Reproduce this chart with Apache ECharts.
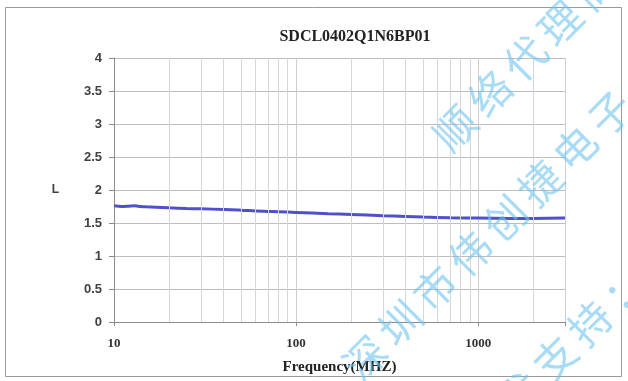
<!DOCTYPE html>
<html>
<head>
<meta charset="utf-8">
<script src="https://cdn.jsdelivr.net/npm/echarts@6/dist/echarts.min.js"></script>
<style>
  html, body { margin: 0; padding: 0; background: #fff; }
  #chart { width: 628px; height: 381px; }
</style>
</head>
<body>
<div id="chart"></div>
<script>
// inductance curve
const freqs = [10, 11, 12, 13, 14, 15, 17, 20, 25, 30, 40, 50, 60, 70, 80, 100, 150, 200, 300, 400, 500, 700, 1000, 1500, 2000, 3000];
const inductance = [1.76, 1.75, 1.755, 1.76, 1.75, 1.745, 1.74, 1.73, 1.72, 1.715, 1.705, 1.695, 1.68, 1.675, 1.67, 1.66, 1.64, 1.63, 1.61, 1.6, 1.59, 1.58, 1.575, 1.57, 1.57, 1.575];
// minor vertical grid lines of the log axis
const minorFreqs = [20, 30, 40, 50, 60, 70, 80, 90, 200, 300, 400, 500, 600, 700, 800, 900, 2000];
const xLabels = [10, 100, 1000];

const wmLines = [
    {text: '顺络代理商', x: 455, y: 128},
    {text: '深圳市伟创捷电子', x: 365, y: 358},
    {text: '技术支持：', x: 485, y: 428}
];

const wmGraphics = [];
wmLines.forEach(line => {
    [...line.text].forEach((ch, i) => {
        wmGraphics.push({
            type: 'text',
            x: line.x + i * 35,
            y: line.y - i * 35,
            rotation: Math.PI / 4,
            z: 100,
            silent: true,
            style: {
                text: ch,
                fill: 'rgba(110,195,240,0.6)',
                font: '42px "Noto Sans CJK SC"',
                align: 'center',
                verticalAlign: 'middle'
            }
        });
    });
});

const chart = echarts.init(document.getElementById('chart'), null, {renderer: 'canvas'});

chart.setOption({
    backgroundColor: '#fff',
    animation: false,
    title: {
        text: 'SDCL0402Q1N6BP01',
        left: 350,
        top: 24,
        textAlign: 'center',
        textStyle: {
            fontFamily: 'Liberation Serif',
            fontWeight: 'bold',
            fontSize: 16,
            color: '#222'
        }
    },
    grid: {left: 114, right: 63, top: 58, bottom: 59},
    xAxis: {
        type: 'log',
        logBase: 10,
        min: 10,
        max: 3000,
        name: 'Frequency(MHZ)',
        nameLocation: 'middle',
        nameGap: 38,
        nameTextStyle: {
            fontFamily: 'Liberation Serif',
            fontWeight: 'bold',
            fontSize: 15,
            color: '#222'
        },
        axisLine: {lineStyle: {color: '#8c8c8c', width: 1}},
        axisTick: {show: true, length: 4, lineStyle: {color: '#8c8c8c'}},
        axisLabel: {
            margin: 15,
            fontFamily: 'Liberation Serif',
            fontWeight: 'bold',
            fontSize: 13,
            color: '#333',
            formatter: v => (xLabels.indexOf(Math.round(v)) >= 0 ? String(Math.round(v)) : '')
        },
        splitLine: {show: true, lineStyle: {color: '#cfcfcf', width: 1}}
    },
    yAxis: {
        type: 'value',
        min: 0,
        max: 4,
        interval: 0.5,
        name: 'L',
        nameLocation: 'middle',
        nameRotate: 0,
        nameGap: 55,
        nameTextStyle: {
            fontFamily: 'Liberation Sans',
            fontWeight: 'bold',
            fontSize: 12,
            color: '#404040'
        },
        axisLine: {show: true, lineStyle: {color: '#8c8c8c', width: 1}},
        axisTick: {show: true, length: 5, lineStyle: {color: '#8c8c8c'}},
        axisLabel: {
            margin: 12,
            fontFamily: 'Liberation Sans',
            fontWeight: 'bold',
            fontSize: 13,
            color: '#404040'
        },
        splitLine: {show: true, lineStyle: {color: '#bdbdbd', width: 1}}
    },
    series: [{
        type: 'line',
        data: freqs.map((f, i) => [f, inductance[i]]),
        showSymbol: false,
        smooth: 0.3,
        lineStyle: {color: '#5050cc', width: 3},
        markLine: {
            silent: true,
            symbol: ['none', 'none'],
            label: {show: false},
            lineStyle: {color: '#d6d6d6', width: 1, type: 'solid'},
            data: minorFreqs.map(f => ({xAxis: f}))
        }
    }],
    graphic: [
        {
            type: 'rect',
            shape: {x: 5.5, y: 7.5, width: 616, height: 369},
            style: {fill: 'none', stroke: '#9a9a9a', lineWidth: 1},
            silent: true
        }
    ].concat(wmGraphics)
});
</script>
</body>
</html>
